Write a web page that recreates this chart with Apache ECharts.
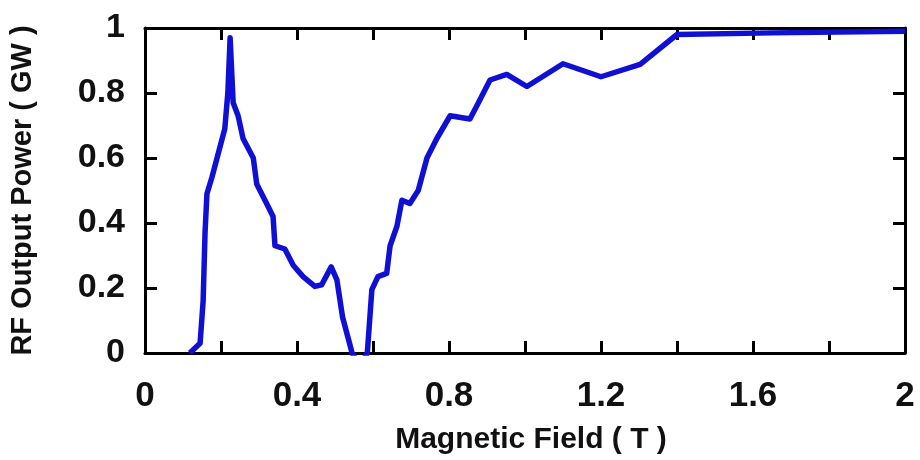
<!DOCTYPE html>
<html>
<head>
<meta charset="utf-8">
<script src="https://cdn.jsdelivr.net/npm/echarts@6/dist/echarts.min.js"></script>
<style>html,body{margin:0;padding:0;background:#fff}#c{width:920px;height:460px}</style>
</head>
<body>
<div id="c"></div>
<script>
const fieldT = [0.118,0.145,0.153,0.158,0.163,0.176,0.21,0.218,0.224,0.232,0.245,0.258,0.285,0.294,0.32,0.337,0.342,0.368,0.39,0.416,0.447,0.465,0.49,0.505,0.52,0.545,0.565,0.585,0.597,0.613,0.636,0.645,0.663,0.676,0.697,0.719,0.742,0.768,0.803,0.855,0.873,0.908,0.952,1.005,1.1,1.2,1.303,1.40,1.65,2.0];
const powerGW = [0,0.03,0.16,0.37,0.49,0.54,0.69,0.80,0.97,0.77,0.73,0.66,0.60,0.52,0.46,0.42,0.33,0.32,0.27,0.235,0.205,0.21,0.265,0.225,0.11,0,-0.04,0,0.195,0.235,0.245,0.33,0.39,0.47,0.46,0.50,0.60,0.66,0.73,0.72,0.76,0.84,0.857,0.82,0.89,0.85,0.888,0.98,0.985,0.99];
const xTickLabels = ['0','0.4','0.8','1.2','1.6','2'];
const yTickLabels = ['0','0.2','0.4','0.6','0.8','1'];
const xTitle = 'Magnetic Field ( T )';
const yTitle = 'RF Output Power ( GW )';

const font = '"Liberation Sans", Arial, sans-serif';
const fmtX = v => { const k = v / 0.4; const r = Math.round(k); return Math.abs(k - r) < 1e-6 ? (xTickLabels[r] ?? '') : ''; };
const fmtY = v => { const r = Math.round(v / 0.2); return yTickLabels[r] ?? ''; };
const tick = { show: true, inside: true, length: 12, lineStyle: { color: '#000', width: 3 } };
const line = { show: true, onZero: false, lineStyle: { color: '#000', width: 3 } };

const chart = echarts.init(document.getElementById('c'));
chart.setOption({
  animation: false,
  backgroundColor: '#fff',
  grid: { left: 145, right: 15, top: 28, bottom: 103, containLabel: false },
  xAxis: [
    { type: 'value', min: 0, max: 2, interval: 0.2, position: 'bottom',
      axisLine: line, axisTick: tick, splitLine: { show: false },
      axisLabel: { formatter: fmtX, margin: 26, fontSize: 35, fontWeight: 'bold', color: '#111', fontFamily: font },
      name: xTitle, nameLocation: 'middle', nameGap: 72,
      nameTextStyle: { fontSize: 30, fontWeight: 'bold', color: '#111', fontFamily: font, padding: [0, 0, 0, 12] } },
    { type: 'value', min: 0, max: 2, interval: 0.2, position: 'top',
      axisLine: line, axisTick: tick, splitLine: { show: false }, axisLabel: { show: false } }
  ],
  yAxis: [
    { type: 'value', min: 0, max: 1, interval: 0.2, position: 'left',
      axisLine: line, axisTick: tick, splitLine: { show: false },
      axisLabel: { formatter: fmtY, margin: 20, fontSize: 34, fontWeight: 'bold', color: '#111', fontFamily: font },
      name: yTitle, nameLocation: 'middle', nameGap: 108,
      nameTextStyle: { fontSize: 29, fontWeight: 'bold', color: '#111', fontFamily: font } },
    { type: 'value', min: 0, max: 1, interval: 0.2, position: 'right',
      axisLine: line, axisTick: tick, splitLine: { show: false }, axisLabel: { show: false } }
  ],
  series: [{
    type: 'line',
    data: fieldT.map((x, i) => [x, powerGW[i]]),
    showSymbol: false, symbol: 'none', clip: true,
    lineStyle: { color: '#1010d4', width: 5.5, join: 'round' }
  }]
});
</script>
</body>
</html>
